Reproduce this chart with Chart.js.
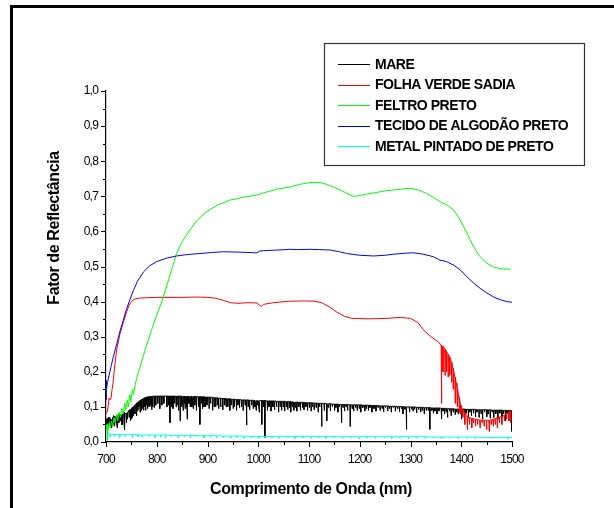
<!DOCTYPE html>
<html>
<head>
<meta charset="utf-8">
<script src="https://cdn.jsdelivr.net/npm/chart.js@4.4.1/dist/chart.umd.min.js"></script>
<style>
  html, body { margin: 0; padding: 0; background: #fff; overflow: hidden; }
  #wrap { position: relative; width: 614px; height: 508px; overflow: hidden; }
  #frame { position: absolute; left: 10px; top: 5px; width: 700px; height: 600px; border: 3px solid #000; }
  #chart { position: absolute; left: 0; top: 0; }
</style>
</head>
<body>
<div id="wrap">
  <div id="frame"></div>
  <canvas id="chart" width="614" height="508"></canvas>
</div>
<script>
// series names and colours
const seriesNames = ['MARE', 'FOLHA VERDE SADIA', 'FELTRO PRETO', 'TECIDO DE ALGODÃO PRETO', 'METAL PINTADO DE PRETO'];
const seriesColors = ['#000000', '#ff0000', '#00ff00', '#0000ff', '#00ffff'];

// axis ticks
const xMajorTicks = [700, 800, 900, 1000, 1100, 1200, 1300, 1400, 1500];
const xMinorTicks = [750, 850, 950, 1050, 1150, 1250, 1350, 1450];
const yMajorTicks = [0, 0.1, 0.2, 0.3, 0.4, 0.5, 0.6, 0.7, 0.8, 0.9, 1.0];
const yMinorTicks = [0.05, 0.15, 0.25, 0.35, 0.45, 0.55, 0.65, 0.75, 0.85, 0.95];

// MARE: smooth level [nm, value] and narrow dips [nm, level, bottom]
const mareLevel = [
  [700, 0.065], [705, 0.07], [710, 0.062], [715, 0.075], [720, 0.07], [725, 0.08], [730, 0.075],
  [735, 0.085], [740, 0.08], [745, 0.09], [750, 0.095], [760, 0.11], [770, 0.122], [780, 0.128],
  [800, 0.131], [850, 0.131], [900, 0.128], [950, 0.122], [1000, 0.118], [1050, 0.116], [1100, 0.112],
  [1150, 0.108], [1200, 0.106], [1250, 0.103], [1300, 0.1], [1350, 0.097], [1400, 0.094], [1450, 0.092], [1500, 0.09]
];
const mareDips = [
  [701.5, 0.066, 0.05], [703, 0.068, 0.04], [705.5, 0.07, 0.045], [708, 0.066, 0.05], [710.5, 0.062, 0.04],
  [712, 0.064, 0.045], [714, 0.07, 0.05], [716.5, 0.074, 0.045], [718, 0.072, 0.055], [720.5, 0.07, 0.05],
  [722, 0.072, 0.04], [725.5, 0.08, 0.055], [728, 0.077, 0.06], [731, 0.077, 0.05], [733, 0.08, 0.05],
  [735.5, 0.085, 0.06], [737, 0.082, 0.035], [740.5, 0.08, 0.055], [742, 0.083, 0.065], [745.5, 0.09, 0.07],
  [748, 0.093, 0.06], [750.5, 0.095, 0.065], [752, 0.098, 0.07], [754, 0.1, 0.075], [757, 0.105, 0.08],
  [760.5, 0.11, 0.075], [763, 0.114, 0.09], [765, 0.116, 0.1], [767, 0.118, 0.085], [769, 0.12, 0.09],
  [771, 0.122, 0.095], [774, 0.124, 0.09], [776, 0.126, 0.1], [778, 0.127, 0.09], [780.5, 0.128, 0.105],
  [782, 0.129, 0.095], [784, 0.129, 0.1], [786, 0.13, 0.1], [788, 0.13, 0.105], [790, 0.13, 0.092],
  [792, 0.13, 0.1], [795, 0.131, 0.098], [798, 0.131, 0.105], [802, 0.131, 0.11], [806, 0.131, 0.095],
  [810, 0.131, 0.105], [814, 0.131, 0.11], [820, 0.131, 0.1], [823, 0.131, 0.105], [826, 0.131, 0.055],
  [829, 0.131, 0.1], [832, 0.131, 0.095], [835, 0.131, 0.11], [838, 0.131, 0.1], [840, 0.131, 0.105],
  [843, 0.131, 0.09], [846, 0.131, 0.06], [849, 0.131, 0.1], [852, 0.131, 0.09], [854, 0.131, 0.11],
  [856, 0.131, 0.095], [858, 0.13, 0.1], [860, 0.13, 0.065], [863, 0.13, 0.11], [866, 0.13, 0.1],
  [869, 0.13, 0.1], [872, 0.13, 0.095], [875, 0.13, 0.105], [878, 0.129, 0.09], [882, 0.129, 0.1],
  [885, 0.129, 0.05], [888, 0.129, 0.11], [890, 0.129, 0.095], [893, 0.129, 0.1], [896, 0.128, 0.1],
  [899, 0.128, 0.105], [903, 0.128, 0.095], [906, 0.128, 0.11], [910, 0.127, 0.09], [913, 0.127, 0.1],
  [916, 0.126, 0.1], [919, 0.126, 0.105], [922, 0.125, 0.095], [926, 0.125, 0.1], [930, 0.124, 0.092],
  [934, 0.124, 0.105], [937, 0.123, 0.1], [940, 0.123, 0.1], [944, 0.123, 0.09], [947, 0.122, 0.105],
  [950.5, 0.122, 0.095], [953, 0.122, 0.1], [957, 0.121, 0.09], [960, 0.121, 0.105], [963, 0.121, 0.098],
  [967, 0.12, 0.1], [970, 0.12, 0.09], [974, 0.12, 0.105], [977, 0.12, 0.048], [980, 0.12, 0.1],
  [983, 0.119, 0.092], [987, 0.119, 0.105], [990, 0.119, 0.095], [993, 0.118, 0.1], [996, 0.118, 0.09],
  [999, 0.118, 0.105], [1002, 0.118, 0.085], [1007, 0.118, 0.05], [1010, 0.118, 0.1], [1013, 0.118, 0.012],
  [1018, 0.117, 0.09], [1021, 0.117, 0.1], [1025, 0.117, 0.088], [1029, 0.117, 0.1], [1032, 0.117, 0.092],
  [1036, 0.116, 0.1], [1040, 0.116, 0.085], [1043, 0.116, 0.1], [1046, 0.116, 0.09], [1049, 0.116, 0.1],
  [1052, 0.116, 0.088], [1055, 0.115, 0.1], [1058, 0.115, 0.092], [1061, 0.115, 0.098], [1064, 0.115, 0.085],
  [1067, 0.115, 0.1], [1070, 0.114, 0.09], [1073, 0.114, 0.098], [1076, 0.114, 0.088], [1080, 0.113, 0.1],
  [1083, 0.113, 0.09], [1087, 0.113, 0.098], [1090, 0.113, 0.092], [1094, 0.112, 0.1], [1097, 0.112, 0.09],
  [1100.5, 0.112, 0.098], [1104, 0.112, 0.088], [1107, 0.112, 0.1], [1110, 0.111, 0.092], [1114, 0.111, 0.098],
  [1118, 0.111, 0.085], [1121, 0.11, 0.1], [1125, 0.11, 0.044], [1130, 0.11, 0.09], [1135, 0.109, 0.06],
  [1138, 0.109, 0.098], [1142, 0.109, 0.088], [1146, 0.108, 0.1], [1150.5, 0.108, 0.09], [1153, 0.108, 0.098],
  [1157, 0.108, 0.085], [1160, 0.107, 0.1], [1164, 0.107, 0.055], [1167, 0.107, 0.098], [1170, 0.107, 0.088],
  [1173, 0.107, 0.1], [1176, 0.107, 0.09], [1181, 0.106, 0.044], [1185, 0.106, 0.095], [1188, 0.106, 0.088],
  [1192, 0.106, 0.098], [1195, 0.106, 0.09], [1199, 0.106, 0.095], [1202, 0.106, 0.085], [1206, 0.105, 0.098],
  [1210, 0.105, 0.088], [1213, 0.105, 0.095], [1217, 0.105, 0.09], [1220, 0.105, 0.098], [1224, 0.104, 0.085],
  [1228, 0.104, 0.095], [1232, 0.104, 0.088], [1236, 0.104, 0.098], [1240, 0.103, 0.09], [1244, 0.103, 0.095],
  [1247, 0.103, 0.086], [1251, 0.103, 0.098], [1255, 0.103, 0.088], [1258, 0.102, 0.095], [1262, 0.102, 0.085],
  [1266, 0.102, 0.098], [1270, 0.102, 0.088], [1274, 0.101, 0.095], [1278, 0.101, 0.086], [1282, 0.101, 0.095],
  [1285, 0.101, 0.08], [1289, 0.1, 0.093], [1292, 0.1, 0.036], [1298, 0.1, 0.085], [1302, 0.1, 0.093],
  [1305, 0.1, 0.088], [1308, 0.1, 0.093], [1312, 0.099, 0.083], [1316, 0.099, 0.092], [1320, 0.099, 0.085],
  [1323, 0.099, 0.09], [1327, 0.098, 0.08], [1331, 0.098, 0.09], [1335, 0.098, 0.09], [1338, 0.098, 0.036],
  [1342, 0.097, 0.09], [1345, 0.097, 0.082], [1348, 0.097, 0.088], [1352, 0.097, 0.08], [1356, 0.097, 0.088],
  [1361, 0.096, 0.065], [1364, 0.096, 0.088], [1367, 0.096, 0.08], [1370, 0.096, 0.085], [1373, 0.095, 0.07],
  [1377, 0.095, 0.088], [1380, 0.095, 0.075], [1384, 0.095, 0.085], [1388, 0.094, 0.078], [1391, 0.094, 0.085],
  [1394, 0.094, 0.08], [1397, 0.094, 0.085], [1400.5, 0.094, 0.065], [1403, 0.094, 0.085], [1407, 0.094, 0.078],
  [1410, 0.093, 0.082], [1414, 0.093, 0.07], [1417, 0.093, 0.085], [1420, 0.093, 0.075], [1424, 0.093, 0.082],
  [1428, 0.093, 0.072], [1431, 0.092, 0.085], [1435, 0.092, 0.07], [1439, 0.092, 0.08], [1442, 0.092, 0.065],
  [1446, 0.092, 0.085], [1450.5, 0.092, 0.072], [1453, 0.092, 0.08], [1457, 0.092, 0.068], [1461, 0.091, 0.085],
  [1464, 0.091, 0.07], [1468, 0.091, 0.08], [1472, 0.091, 0.065], [1476, 0.091, 0.082], [1480, 0.091, 0.07],
  [1483, 0.09, 0.08], [1487, 0.09, 0.06], [1490, 0.09, 0.082], [1493, 0.09, 0.065], [1496, 0.09, 0.08],
  [1499, 0.09, 0.03]
];

// FOLHA VERDE SADIA
const folhaLevel = [
  [700, 0.08], [702, 0.085], [704, 0.1], [706, 0.125], [708, 0.12], [710, 0.125], [712, 0.15], [714, 0.17],
  [716, 0.2], [719, 0.24], [722, 0.27], [727, 0.305], [734, 0.34], [740, 0.368], [745, 0.388], [750, 0.4],
  [756, 0.407], [765, 0.41], [780, 0.411], [800, 0.412], [850, 0.412], [880, 0.413], [900, 0.412],
  [915, 0.41], [930, 0.404], [945, 0.397], [960, 0.395], [980, 0.397], [998, 0.396], [1002, 0.39],
  [1006, 0.386], [1010, 0.392], [1030, 0.397], [1060, 0.401], [1090, 0.402], [1110, 0.401], [1125, 0.397],
  [1140, 0.385], [1155, 0.37], [1170, 0.358], [1185, 0.352], [1220, 0.351], [1250, 0.352], [1280, 0.355],
  [1300, 0.352], [1315, 0.34], [1325, 0.32], [1340, 0.3], [1355, 0.285], [1370, 0.26], [1377, 0.243],
  [1385, 0.205], [1390, 0.168], [1395, 0.13], [1400, 0.1], [1410, 0.077], [1420, 0.068], [1436, 0.063],
  [1456, 0.062], [1476, 0.071], [1490, 0.08], [1498, 0.091]
];
const folhaDips = [
  [1361, 0.276, 0.11], [1364, 0.272, 0.2], [1368, 0.264, 0.19], [1371, 0.258, 0.2], [1374, 0.25, 0.185],
  [1377.5, 0.24, 0.19], [1381, 0.228, 0.17], [1384, 0.21, 0.15], [1388, 0.185, 0.11], [1392, 0.155, 0.1],
  [1396, 0.125, 0.085], [1399, 0.105, 0.08], [1403, 0.092, 0.07], [1407, 0.082, 0.05], [1412, 0.075, 0.035],
  [1416, 0.07, 0.05], [1421, 0.068, 0.04], [1424, 0.066, 0.055], [1428, 0.065, 0.045], [1432, 0.064, 0.05],
  [1437, 0.063, 0.04], [1441, 0.063, 0.055], [1445, 0.062, 0.045], [1450, 0.062, 0.035], [1455, 0.062, 0.03],
  [1459, 0.063, 0.05], [1463, 0.065, 0.045], [1467, 0.067, 0.05], [1471, 0.069, 0.04], [1475, 0.07, 0.055],
  [1480, 0.073, 0.05], [1485, 0.076, 0.06], [1489, 0.08, 0.065], [1494, 0.085, 0.06], [1497, 0.09, 0.055]
];

// FELTRO PRETO
const feltroLevel = [
  [700, 0.035], [702, 0.05], [703, 0.005], [704, 0.03], [706, 0.055], [708, 0.04], [711, 0.06], [713, 0.045],
  [716, 0.07], [718, 0.055], [721, 0.08], [723, 0.06], [726, 0.085], [729, 0.07], [731, 0.095], [734, 0.08],
  [737, 0.11], [739, 0.09], [742, 0.12], [744, 0.1], [747, 0.135], [749, 0.115], [752, 0.15], [754, 0.135],
  [757, 0.16], [762, 0.19], [770, 0.228], [777, 0.262], [790, 0.32], [800, 0.362], [810, 0.4], [825, 0.47],
  [839, 0.537], [850, 0.57], [865, 0.604], [880, 0.632], [898, 0.656], [920, 0.675], [944, 0.689], [970, 0.697],
  [997, 0.704], [1036, 0.72], [1063, 0.727], [1085, 0.735], [1102, 0.739], [1122, 0.739], [1135, 0.734],
  [1148, 0.727], [1170, 0.712], [1187, 0.7], [1200, 0.702], [1213, 0.706], [1253, 0.716], [1280, 0.72],
  [1299, 0.723], [1315, 0.718], [1332, 0.708], [1345, 0.697], [1358, 0.685], [1372, 0.675], [1385, 0.661],
  [1395, 0.64], [1405, 0.613], [1413, 0.59], [1421, 0.566], [1429, 0.545], [1437, 0.528], [1450, 0.51],
  [1464, 0.498], [1480, 0.493], [1497, 0.492]
];

// TECIDO DE ALGODÃO PRETO
const tecidoLevel = [
  [700, 0.12], [700.5, 0.175], [701, 0.15], [703, 0.17], [706, 0.19], [710, 0.215], [714, 0.24], [718, 0.262],
  [723, 0.29], [728, 0.318], [734, 0.347], [740, 0.377], [747, 0.405], [754, 0.432], [762, 0.458], [774, 0.485],
  [786, 0.502], [800, 0.514], [820, 0.524], [839, 0.53], [860, 0.534], [885, 0.537], [910, 0.54], [931, 0.542],
  [960, 0.541], [997, 0.539], [1003, 0.544], [1010, 0.545], [1040, 0.547], [1063, 0.549], [1080, 0.548],
  [1102, 0.549], [1120, 0.548], [1142, 0.547], [1160, 0.542], [1174, 0.537], [1200, 0.532], [1227, 0.53],
  [1250, 0.532], [1266, 0.535], [1290, 0.538], [1306, 0.539], [1325, 0.535], [1345, 0.528], [1358, 0.518],
  [1371, 0.514], [1385, 0.504], [1398, 0.49], [1411, 0.471], [1425, 0.452], [1437, 0.438], [1450, 0.425],
  [1465, 0.412], [1480, 0.404], [1490, 0.4], [1500, 0.398]
];

// METAL PINTADO DE PRETO
const metalLevel = [
  [700, 0.022], [750, 0.021], [800, 0.02], [900, 0.018], [1000, 0.016], [1100, 0.016],
  [1200, 0.015], [1300, 0.015], [1400, 0.014], [1500, 0.013]
];
const metalDips = [
  [708, 0.022, 0.014], [716, 0.022, 0.016], [727, 0.021, 0.013], [738, 0.021, 0.016], [752, 0.021, 0.012],
  [763, 0.021, 0.015], [771, 0.02, 0.013], [784, 0.02, 0.016], [796, 0.02, 0.012], [808, 0.02, 0.015],
  [817, 0.02, 0.011], [829, 0.019, 0.014], [842, 0.019, 0.012], [855, 0.019, 0.015], [866, 0.019, 0.011],
  [878, 0.018, 0.014], [893, 0.018, 0.012], [905, 0.018, 0.014], [918, 0.018, 0.011], [931, 0.017, 0.013],
  [946, 0.017, 0.011], [958, 0.017, 0.013], [972, 0.017, 0.01], [986, 0.016, 0.012], [1001, 0.016, 0.009],
  [1012, 0.016, 0.011], [1027, 0.016, 0.012], [1041, 0.016, 0.01], [1058, 0.016, 0.012], [1072, 0.016, 0.01],
  [1088, 0.016, 0.012], [1104, 0.016, 0.01], [1118, 0.016, 0.012], [1133, 0.016, 0.01], [1149, 0.015, 0.012],
  [1166, 0.015, 0.01], [1182, 0.015, 0.011], [1199, 0.015, 0.009], [1214, 0.015, 0.011], [1231, 0.015, 0.01],
  [1248, 0.015, 0.012], [1263, 0.015, 0.01], [1279, 0.015, 0.011], [1296, 0.015, 0.009], [1312, 0.015, 0.011],
  [1329, 0.015, 0.01], [1345, 0.014, 0.011], [1361, 0.014, 0.009], [1378, 0.014, 0.011], [1394, 0.014, 0.01],
  [1411, 0.014, 0.011], [1428, 0.014, 0.009], [1445, 0.013, 0.011], [1461, 0.013, 0.01], [1478, 0.013, 0.011],
  [1492, 0.013, 0.009]
];

// merge level + narrow dips into one sorted point list
function buildSeries(level, dips) {
  const pts = level.map(p => ({ x: p[0], y: p[1] }));
  (dips || []).forEach(d => {
    pts.push({ x: d[0] - 0.6, y: d[1] });
    pts.push({ x: d[0], y: d[2] });
    pts.push({ x: d[0] + 0.6, y: d[1] });
  });
  pts.sort((a, b) => a.x - b.x);
  return pts;
}

const seriesData = [
  buildSeries(mareLevel, mareDips),
  buildSeries(folhaLevel, folhaDips),
  buildSeries(feltroLevel),
  buildSeries(tecidoLevel),
  buildSeries(metalLevel, metalDips)
];

const fmtComma = v => v.toFixed(1).replace('.', ',');

// outward major/minor tick marks on both axes
const tickMarks = {
  id: 'tickMarks',
  afterDraw(chart) {
    const { ctx, scales: { x, y } } = chart;
    ctx.save();
    ctx.strokeStyle = '#000';
    ctx.lineWidth = 1;
    ctx.beginPath();
    xMajorTicks.concat(xMinorTicks).forEach(v => {
      const px = Math.round(x.getPixelForValue(v)) + 0.5;
      const len = xMajorTicks.includes(v) ? 5 : 3;
      ctx.moveTo(px, x.top);
      ctx.lineTo(px, x.top + len);
    });
    yMajorTicks.concat(yMinorTicks).forEach(v => {
      const py = Math.round(y.getPixelForValue(v)) + 0.5;
      const len = yMajorTicks.includes(v) ? 5 : 3;
      ctx.moveTo(y.right, py);
      ctx.lineTo(y.right - len, py);
    });
    ctx.stroke();
    ctx.restore();
  }
};

// boxed legend in the upper right
const legendBox = {
  id: 'legendBox',
  afterDraw(chart) {
    const ctx = chart.ctx;
    ctx.save();
    ctx.strokeStyle = '#333';
    ctx.lineWidth = 1.2;
    ctx.strokeRect(324.5, 43.5, 260, 122);
    ctx.font = 'bold 14px "Liberation Sans", Arial, sans-serif';
    ctx.letterSpacing = '-0.45px';
    ctx.textBaseline = 'middle';
    ctx.fillStyle = '#000';
    seriesNames.forEach((name, i) => {
      const ty = 64 + i * 20.5;
      ctx.strokeStyle = seriesColors[i];
      ctx.lineWidth = 1;
      ctx.beginPath();
      ctx.moveTo(338, Math.round(ty) + 0.5);
      ctx.lineTo(370, Math.round(ty) + 0.5);
      ctx.stroke();
      ctx.fillText(name, 375, ty + 1);
    });
    ctx.restore();
  }
};

// axis titles
const axisTitles = {
  id: 'axisTitles',
  afterDraw(chart) {
    const ctx = chart.ctx;
    ctx.save();
    ctx.fillStyle = '#000';
    ctx.font = 'bold 16px "Liberation Sans", Arial, sans-serif';
    ctx.letterSpacing = '-0.4px';
    ctx.textAlign = 'center';
    ctx.textBaseline = 'middle';
    ctx.fillText('Comprimento de Onda (nm)', 311, 490);
    ctx.translate(55, 228);
    ctx.rotate(-Math.PI / 2);
    ctx.fillText('Fator de Reflectância', 0, 0);
    ctx.restore();
  }
};

// narrow tick label spacing
const tickFont = {
  id: 'tickFont',
  beforeDraw(chart) { chart.ctx.letterSpacing = '-0.8px'; },
  afterDraw(chart) { chart.ctx.letterSpacing = '0px'; }
};

new Chart(document.getElementById('chart'), {
  type: 'line',
  data: {
    datasets: seriesNames.map((name, i) => ({
      label: name,
      data: seriesData[i],
      borderColor: seriesColors[i],
      borderWidth: 1,
      pointRadius: 0,
      tension: 0,
      fill: false,
      order: 5 - i
    }))
  },
  options: {
    responsive: false,
    animation: false,
    devicePixelRatio: 1,
    layout: { padding: { left: 0, top: 91, right: 102, bottom: 0 } },
    plugins: { legend: { display: false }, tooltip: { enabled: false } },
    scales: {
      x: {
        type: 'linear',
        min: 700,
        max: 1500,
        afterFit: s => { s.height = 66; },
        afterBuildTicks: s => { s.ticks = xMajorTicks.map(v => ({ value: v })); },
        grid: { display: false, drawTicks: false },
        border: { display: true, color: '#000', width: 1.2 },
        ticks: {
          color: '#000',
          padding: 10,
          maxRotation: 0,
          autoSkip: false,
          font: { family: '"Liberation Sans", Arial, sans-serif', size: 12 },
          callback: v => String(v)
        }
      },
      y: {
        type: 'linear',
        min: 0,
        max: 1,
        afterFit: s => { s.width = 106; },
        afterBuildTicks: s => { s.ticks = yMajorTicks.map(v => ({ value: v })); },
        grid: { display: false, drawTicks: false },
        border: { display: true, color: '#000', width: 1.2 },
        ticks: {
          color: '#000',
          padding: 8,
          autoSkip: false,
          font: { family: '"Liberation Sans", Arial, sans-serif', size: 12 },
          callback: v => fmtComma(v)
        }
      }
    }
  },
  plugins: [tickFont, tickMarks, legendBox, axisTitles]
});
</script>
</body>
</html>
